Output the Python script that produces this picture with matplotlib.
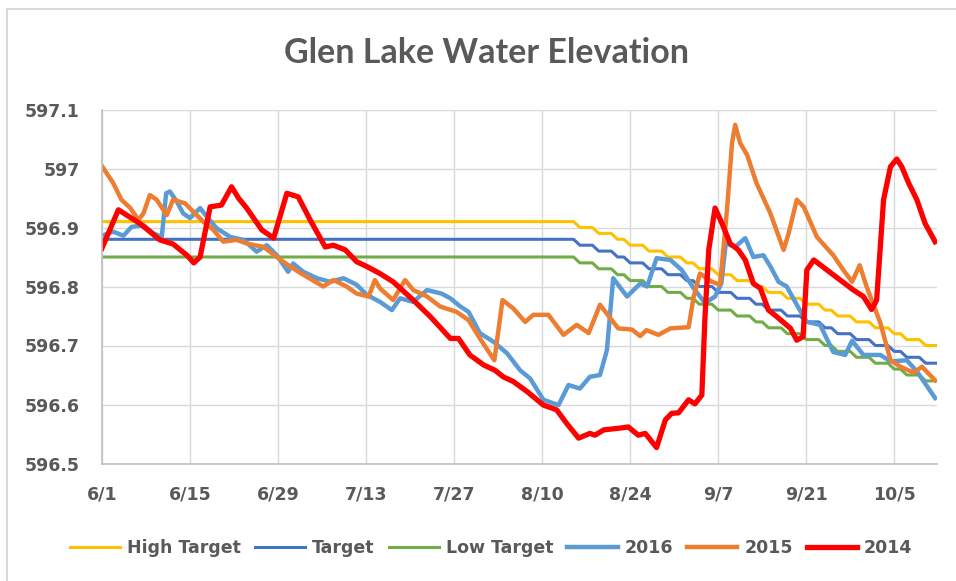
import matplotlib
matplotlib.use("Agg")
import matplotlib.pyplot as plt
from matplotlib.lines import Line2D

# days after 6/1
tick_days = [0, 14, 28, 42, 56, 70, 84, 98, 112, 126]
tick_labels = ["6/1", "6/15", "6/29", "7/13", "7/27", "8/10", "8/24", "9/7", "9/21", "10/5"]
y_ticks = [596.5, 596.6, 596.7, 596.8, 596.9, 597.0, 597.1]
y_labels = ["596.5", "596.6", "596.7", "596.8", "596.9", "597", "597.1"]

# target lines (step corners)
tgt_days = [0, 75, 76, 78, 79, 81, 82, 83, 84, 86, 87, 89, 90, 92, 93, 94, 95,
            97, 98, 100, 101, 103, 104, 105, 106, 108, 109, 111, 112, 114, 115,
            116, 117, 119, 120, 122, 123, 125, 126, 127, 128, 130, 131, 133]
high_target = [596.91, 596.91, 596.90, 596.90, 596.89, 596.89, 596.88, 596.88, 596.87,
               596.87, 596.86, 596.86, 596.85, 596.85, 596.84, 596.84, 596.83, 596.83,
               596.82, 596.82, 596.81, 596.81, 596.80, 596.80, 596.79, 596.79, 596.78,
               596.78, 596.77, 596.77, 596.76, 596.76, 596.75, 596.75, 596.74, 596.74,
               596.73, 596.73, 596.72, 596.72, 596.71, 596.71, 596.70, 596.70]
target = [596.88, 596.88, 596.87, 596.87, 596.86, 596.86, 596.85, 596.85, 596.84,
          596.84, 596.83, 596.83, 596.82, 596.82, 596.81, 596.81, 596.80, 596.80,
          596.79, 596.79, 596.78, 596.78, 596.77, 596.77, 596.76, 596.76, 596.75,
          596.75, 596.74, 596.74, 596.73, 596.73, 596.72, 596.72, 596.71, 596.71,
          596.70, 596.70, 596.69, 596.69, 596.68, 596.68, 596.67, 596.67]
low_target = [596.85, 596.85, 596.84, 596.84, 596.83, 596.83, 596.82, 596.82, 596.81,
              596.81, 596.80, 596.80, 596.79, 596.79, 596.78, 596.78, 596.77, 596.77,
              596.76, 596.76, 596.75, 596.75, 596.74, 596.74, 596.73, 596.73, 596.72,
              596.72, 596.71, 596.71, 596.70, 596.70, 596.69, 596.69, 596.68, 596.68,
              596.67, 596.67, 596.66, 596.66, 596.65, 596.65, 596.64, 596.64]

days_2016 = [0, 1.8, 3.4, 4.7, 6.6, 8.2, 9.5, 10.2, 10.8, 11.9, 12.9, 14.0, 15.6, 16.7,
             18.2, 20.4, 22.5, 24.6, 26.2, 27.8, 29.6, 30.4, 32.0, 34.2, 36.3, 38.4,
             40.5, 42.1, 44.2, 46.1, 47.4, 49.5, 51.7, 54.0, 55.4, 57.0, 58.3, 60.1,
             62.3, 64.4, 66.5, 68.1, 70.2, 72.6, 74.2, 76.0, 77.6, 79.2, 80.3, 81.3,
             83.5, 85.6, 86.7, 88.2, 90.4, 92.2, 94.1, 95.9, 97.5, 98.5, 99.2, 100.7,
             102.3, 103.6, 105.2, 106.3, 107.6, 108.9, 110.5, 112.1, 114.2, 116.3,
             118.2, 119.3, 121.1, 123.8, 125.4, 128.0, 129.6, 132.5]
elev_2016 = [596.886, 596.893, 596.886, 596.901, 596.904, 596.890, 596.884, 596.958,
             596.961, 596.944, 596.924, 596.916, 596.933, 596.918, 596.899, 596.884,
             596.879, 596.859, 596.870, 596.853, 596.825, 596.839, 596.825, 596.814,
             596.808, 596.814, 596.803, 596.786, 596.774, 596.760, 596.780, 596.774,
             596.794, 596.788, 596.780, 596.766, 596.757, 596.721, 596.706, 596.687,
             596.658, 596.644, 596.608, 596.599, 596.633, 596.627, 596.647, 596.650,
             596.692, 596.814, 596.783, 596.805, 596.800, 596.848, 596.845, 596.828,
             596.797, 596.772, 596.783, 596.805, 596.873, 596.867, 596.882, 596.850,
             596.853, 596.834, 596.808, 596.800, 596.769, 596.740, 596.735, 596.689,
             596.684, 596.708, 596.684, 596.684, 596.673, 596.675, 596.656, 596.611]

days_2015 = [0, 1.8, 3.1, 4.5, 5.8, 6.6, 7.6, 8.7, 10.3, 11.3, 13.2, 14.5, 16.1, 17.7,
             19.3, 21.4, 23.0, 25.7, 27.8, 29.9, 32.0, 35.2, 36.8, 38.9, 40.5, 42.4,
             43.4, 44.2, 46.3, 48.2, 49.5, 51.7, 53.8, 56.4, 58.3, 60.1, 62.4, 63.7,
             65.4, 67.3, 68.6, 71.0, 73.4, 75.5, 77.4, 79.2, 82.1, 84.3, 85.6, 86.6,
             88.5, 90.4, 93.3, 94.1, 95.1, 97.0, 98.3, 99.4, 100.2, 100.7, 101.5,
             102.6, 104.1, 106.3, 108.4, 109.2, 110.5, 111.6, 113.7, 116.3, 117.9,
             119.3, 120.5, 121.6, 123.8, 125.4, 127.0, 129.1, 130.4, 132.5]
elev_2015 = [597.004, 596.975, 596.947, 596.933, 596.913, 596.924, 596.955, 596.947,
             596.921, 596.947, 596.941, 596.927, 596.910, 596.896, 596.876, 596.879,
             596.873, 596.867, 596.850, 596.834, 596.820, 596.800, 596.811, 596.800,
             596.788, 596.783, 596.811, 596.797, 596.777, 596.811, 596.794, 596.783,
             596.766, 596.757, 596.743, 596.712, 596.675, 596.777, 596.763, 596.740,
             596.752, 596.752, 596.718, 596.735, 596.721, 596.769, 596.729, 596.727,
             596.716, 596.726, 596.718, 596.729, 596.731, 596.783, 596.822, 596.808,
             596.803, 596.930, 597.043, 597.074, 597.043, 597.023, 596.975, 596.924,
             596.862, 596.890, 596.947, 596.935, 596.884, 596.853, 596.828, 596.808,
             596.836, 596.800, 596.738, 596.675, 596.664, 596.654, 596.664, 596.641]

days_2014 = [0, 2.6, 6.0, 9.2, 11.3, 13.5, 14.6, 15.6, 17.2, 19.0, 20.6, 21.7, 23.0,
             25.4, 27.3, 29.4, 31.2, 33.1, 35.5, 36.8, 38.7, 40.5, 42.1, 44.2, 46.3,
             49.5, 52.2, 55.4, 56.7, 58.5, 60.7, 62.5, 63.8, 65.4, 67.6, 70.2, 72.3,
             73.9, 75.8, 77.6, 78.4, 79.8, 82.4, 83.7, 85.3, 86.4, 88.2, 89.6, 90.6,
             91.7, 93.3, 94.3, 95.4, 95.9, 96.5, 97.5, 98.6, 99.9, 101.2, 102.3, 103.6,
             104.7, 106.0, 107.3, 109.5, 110.5, 111.5, 112.1, 113.2, 115.3, 117.4,
             119.5, 121.1, 122.4, 123.2, 124.3, 125.4, 126.4, 127.2, 128.3, 129.6,
             130.9, 132.5]
elev_2014 = [596.865, 596.930, 596.907, 596.879, 596.872, 596.853, 596.840, 596.850,
             596.935, 596.938, 596.969, 596.950, 596.933, 596.896, 596.882, 596.958,
             596.952, 596.913, 596.867, 596.870, 596.862, 596.842, 596.834, 596.822,
             596.808, 596.777, 596.749, 596.712, 596.712, 596.684, 596.667, 596.658,
             596.647, 596.639, 596.622, 596.599, 596.591, 596.568, 596.543, 596.551,
             596.548, 596.557, 596.560, 596.562, 596.548, 596.551, 596.527, 596.574,
             596.585, 596.586, 596.608, 596.601, 596.616, 596.749, 596.862, 596.933,
             596.907, 596.873, 596.862, 596.845, 596.805, 596.797, 596.760, 596.749,
             596.729, 596.709, 596.715, 596.828, 596.845, 596.828, 596.811, 596.794,
             596.783, 596.761, 596.777, 596.947, 597.003, 597.016, 597.003, 596.975,
             596.947, 596.907, 596.876]

plt.rcParams["font.family"] = ["DejaVu Sans"]
plt.rcParams["font.weight"] = "bold"
text_color = "#595959"

fig = plt.figure(figsize=(9.56, 5.81), dpi=100)
ax = fig.add_axes([102 / 956, 117.5 / 581, 835 / 956, 354 / 581])

ax.plot(tgt_days, high_target, color="#FFC000", lw=2.2, label="High Target")
ax.plot(tgt_days, target, color="#4472C4", lw=2.2, label="Target")
ax.plot(tgt_days, low_target, color="#70AD47", lw=2.2, label="Low Target")
ax.plot(days_2016, elev_2016, color="#5B9BD5", lw=3.2, label="2016", solid_joinstyle="round")
ax.plot(days_2015, elev_2015, color="#ED7D31", lw=3.2, label="2015", solid_joinstyle="round")
ax.plot(days_2014, elev_2014, color="#FF0000", lw=3.8, label="2014", solid_joinstyle="round")

ax.set_xlim(0, 132.8)
ax.set_ylim(596.5, 597.1)
ax.set_xticks(tick_days)
ax.set_xticklabels(tick_labels)
ax.set_yticks(y_ticks)
ax.set_yticklabels(y_labels)
ax.tick_params(length=0, labelsize=12.5, labelcolor=text_color)
ax.tick_params(axis="x", pad=16)
ax.tick_params(axis="y", pad=16)
ax.grid(True, color="#D9D9D9", lw=1)
ax.set_axisbelow(True)
for s in ["top", "right"]:
    ax.spines[s].set_visible(False)
for s in ["left", "bottom"]:
    ax.spines[s].set_color("#BFBFBF")
    ax.spines[s].set_linewidth(1.2)

fig.text(0.509, 1 - 53 / 581, "Glen Lake Water Elevation", ha="center", va="center",
         fontsize=24.5, fontweight="bold", color=text_color, family="Lato")

handles, labels = ax.get_legend_handles_labels()
leg = fig.legend(handles, labels, loc="center", bbox_to_anchor=(0.5136, 1 - 548 / 581),
                 ncol=6, frameon=False, handlelength=2.9, handletextpad=0.4,
                 columnspacing=0.8, prop={"size": 12.5, "weight": "bold"})
for t in leg.get_texts():
    t.set_color(text_color)

# chart border (top and left edges visible)
fig.add_artist(Line2D([7 / 956, 1], [1 - 9 / 581, 1 - 9 / 581], transform=fig.transFigure,
                      color="#D9D9D9", lw=1.5))
fig.add_artist(Line2D([7 / 956, 7 / 956], [0, 1 - 9 / 581], transform=fig.transFigure,
                      color="#D9D9D9", lw=1.5))

fig.savefig("out.png", dpi=100)
